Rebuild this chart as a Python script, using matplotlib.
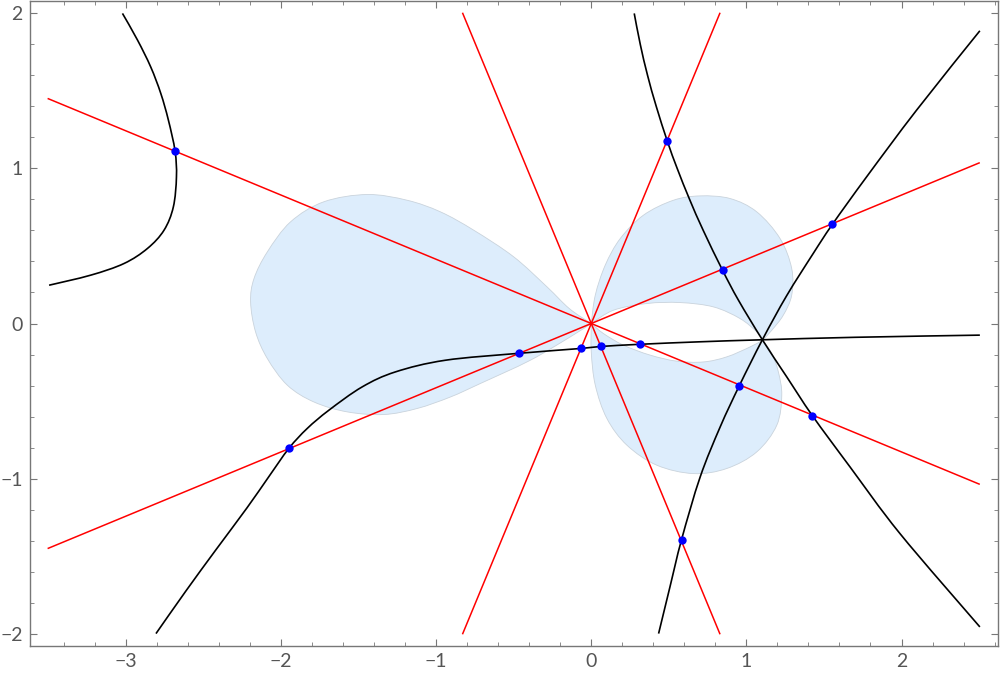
import numpy as np
import matplotlib
matplotlib.use("Agg")
import matplotlib.pyplot as plt
from matplotlib.path import Path
from matplotlib.patches import PathPatch

plt.rcParams["font.family"] = ["Lato", "DejaVu Sans"]

# red lines through the origin (angles in degrees)
line_angles = [22.5, 67.5, 112.5, 157.5]

# black curves
branch_ul_x = [-3.022, -2.925, -2.840, -2.775, -2.726, -2.683, -2.674, -2.694, -2.754, -2.861, -3.012, -3.226, -3.495]
branch_ul_y = [2.0, 1.828, 1.655, 1.484, 1.312, 1.112, 0.946, 0.752, 0.602, 0.484, 0.387, 0.312, 0.247]

branch_long_x = [-2.806, -2.613, -2.42, -2.22, -2.08, -1.949, -1.831, -1.691, -1.477, -1.262, -0.941,
                 -0.463, -0.067, 0.064, 0.316, 0.70, 1.103, 1.7, 2.505]
branch_long_y = [-2.0, -1.725, -1.46, -1.19, -0.99, -0.805, -0.677, -0.559, -0.409, -0.312, -0.237,
                 -0.192, -0.161, -0.148, -0.134, -0.118, -0.105, -0.089, -0.075]

branch_a_x = [0.277, 0.316, 0.363, 0.419, 0.491, 0.554, 0.634, 0.722, 0.846, 0.949,
              1.103, 1.26, 1.425, 1.668, 1.99, 2.505]
branch_a_y = [2.0, 1.8, 1.6, 1.4, 1.174, 1.0, 0.8, 0.6, 0.344, 0.15,
              -0.105, -0.344, -0.594, -0.925, -1.355, -1.957]

branch_b_x = [0.434, 0.507, 0.582, 0.702, 0.831, 0.955, 1.103, 1.26, 1.431, 1.554, 1.775, 2.097, 2.505]
branch_b_y = [-2.0, -1.70, -1.394, -0.99, -0.667, -0.400, -0.105, 0.180, 0.452, 0.639, 0.946, 1.376, 1.888]

# intersection points
pts_x = [-2.685, -1.949, -0.463, -0.067, 0.064, 0.316, 0.491, 0.846, 0.955, 1.425, 1.554, 0.582]
pts_y = [1.112, -0.805, -0.192, -0.161, -0.148, -0.134, 1.174, 0.344, -0.400, -0.594, 0.639, -1.394]

# shaded region
lobe_x = [0, -0.14, -0.285, -0.50, -0.758, -0.972, -1.187, -1.444, -1.724, -1.938, -2.088, -2.174,
          -2.196, -2.164, -2.088, -1.959, -1.788, -1.573, -1.337, -1.122, -0.908, -0.715, -0.393, -0.135, 0]
lobe_y = [0, 0.095, 0.236, 0.43, 0.602, 0.720, 0.795, 0.832, 0.785, 0.656, 0.462, 0.290,
          0.139, -0.054, -0.226, -0.398, -0.506, -0.570, -0.587, -0.548, -0.474, -0.387, -0.237, -0.086, 0]

outer_up_x = [0, 0.026, 0.090, 0.187, 0.337, 0.530, 0.702, 0.895, 1.067, 1.217, 1.292, 1.292, 1.238, 1.164, 1.105]
outer_up_y = [0, 0.183, 0.376, 0.548, 0.699, 0.795, 0.823, 0.806, 0.720, 0.548, 0.355, 0.183, 0.054, -0.043, -0.108]
hole_up_x = [0, 0.144, 0.359, 0.573, 0.788, 0.959, 1.067, 1.105]
hole_up_y = [0, 0.086, 0.129, 0.135, 0.107, 0.032, -0.054, -0.108]
hole_lo_x = [0, 0.079, 0.208, 0.380, 0.552, 0.723, 0.874, 1.024, 1.105]
hole_lo_y = [0, -0.065, -0.140, -0.204, -0.243, -0.248, -0.215, -0.151, -0.108]
outer_lo_x = [0, 0.0, 0.026, 0.101, 0.230, 0.423, 0.659, 0.874, 1.067, 1.196, 1.228, 1.206, 1.164, 1.105]
outer_lo_y = [0, -0.183, -0.398, -0.613, -0.785, -0.914, -0.968, -0.935, -0.828, -0.656, -0.463, -0.312, -0.194, -0.108]

x_lo, x_hi, y_lo, y_hi = -3.5, 2.5, -2.0, 2.0


# smooth bezier segments through the read points (catmull-rom)
def bez(xs, ys):
    p = np.column_stack([xs, ys]).astype(float)
    n = len(p)
    verts = []
    for i in range(n - 1):
        p0 = p[max(i - 1, 0)]
        p1 = p[i]
        p2 = p[i + 1]
        p3 = p[min(i + 2, n - 1)]
        verts += [p1 + (p2 - p0) / 6, p2 - (p3 - p1) / 6, p2]
    return verts


def curve_path(xs, ys):
    v = [np.array([xs[0], ys[0]])] + bez(xs, ys)
    codes = [Path.MOVETO] + [Path.CURVE4] * (len(v) - 1)
    return Path(v, codes)


def region_path(*arcs):
    v = [np.array([arcs[0][0][0], arcs[0][1][0]])]
    for xs, ys in arcs:
        v += bez(xs, ys)
    codes = [Path.MOVETO] + [Path.CURVE4] * (len(v) - 1)
    v.append(v[0])
    codes.append(Path.CLOSEPOLY)
    return Path(v, codes)


fig = plt.figure(figsize=(10, 6.77), dpi=100)
ax = fig.add_axes([0.0297, 0.0458, 0.968, 0.9527])

fill_c = "#ddedfc"
edge_c = "#c9d3dc"
regions = [
    region_path((lobe_x, lobe_y)),
    region_path((outer_up_x, outer_up_y), (hole_up_x[::-1], hole_up_y[::-1])),
    region_path((hole_lo_x, hole_lo_y), (outer_lo_x[::-1], outer_lo_y[::-1])),
]
for r in regions:
    ax.add_patch(PathPatch(r, fc=fill_c, ec=edge_c, lw=0.6, zorder=1))

for a in line_angles:
    m = np.tan(np.radians(a))
    lim = min(abs(y_hi / m), 10)
    xs = np.array([max(x_lo, -lim), min(x_hi, lim)])
    ax.plot(xs, m * xs, color="red", lw=1.1, zorder=2)

for bx, by in [(branch_ul_x, branch_ul_y), (branch_long_x, branch_long_y),
               (branch_a_x, branch_a_y), (branch_b_x, branch_b_y)]:
    ax.add_patch(PathPatch(curve_path(bx, by), fill=False, ec="black", lw=1.2, zorder=3))

ax.plot(pts_x, pts_y, "o", color="blue", ms=6, mec="none", zorder=4)

ax.set_xlim(-3.62, 2.62)
ax.set_ylim(-2.08, 2.08)

ax.set_xticks([-3, -2, -1, 0, 1, 2])
ax.set_yticks([-2, -1, 0, 1, 2])
ax.set_xticklabels(["\u22123", "\u22122", "\u22121", "0", "1", "2"])
ax.set_yticklabels(["\u22122", "\u22121", "0", "1", "2"])
ax.set_xticks(np.arange(-3.4, 2.61, 0.2), minor=True)
ax.set_yticks(np.arange(-2.0, 2.01, 0.2), minor=True)

frame_c = "#777777"
for s in ax.spines.values():
    s.set_color(frame_c)
    s.set_linewidth(1.0)
ax.tick_params(which="both", direction="in", top=True, right=True, color=frame_c,
               labelsize=14, labelcolor="#555555")
ax.tick_params(which="major", length=5, width=0.8, pad=5)
ax.tick_params(which="minor", length=3, width=0.6)

fig.savefig("out.png", dpi=100)
